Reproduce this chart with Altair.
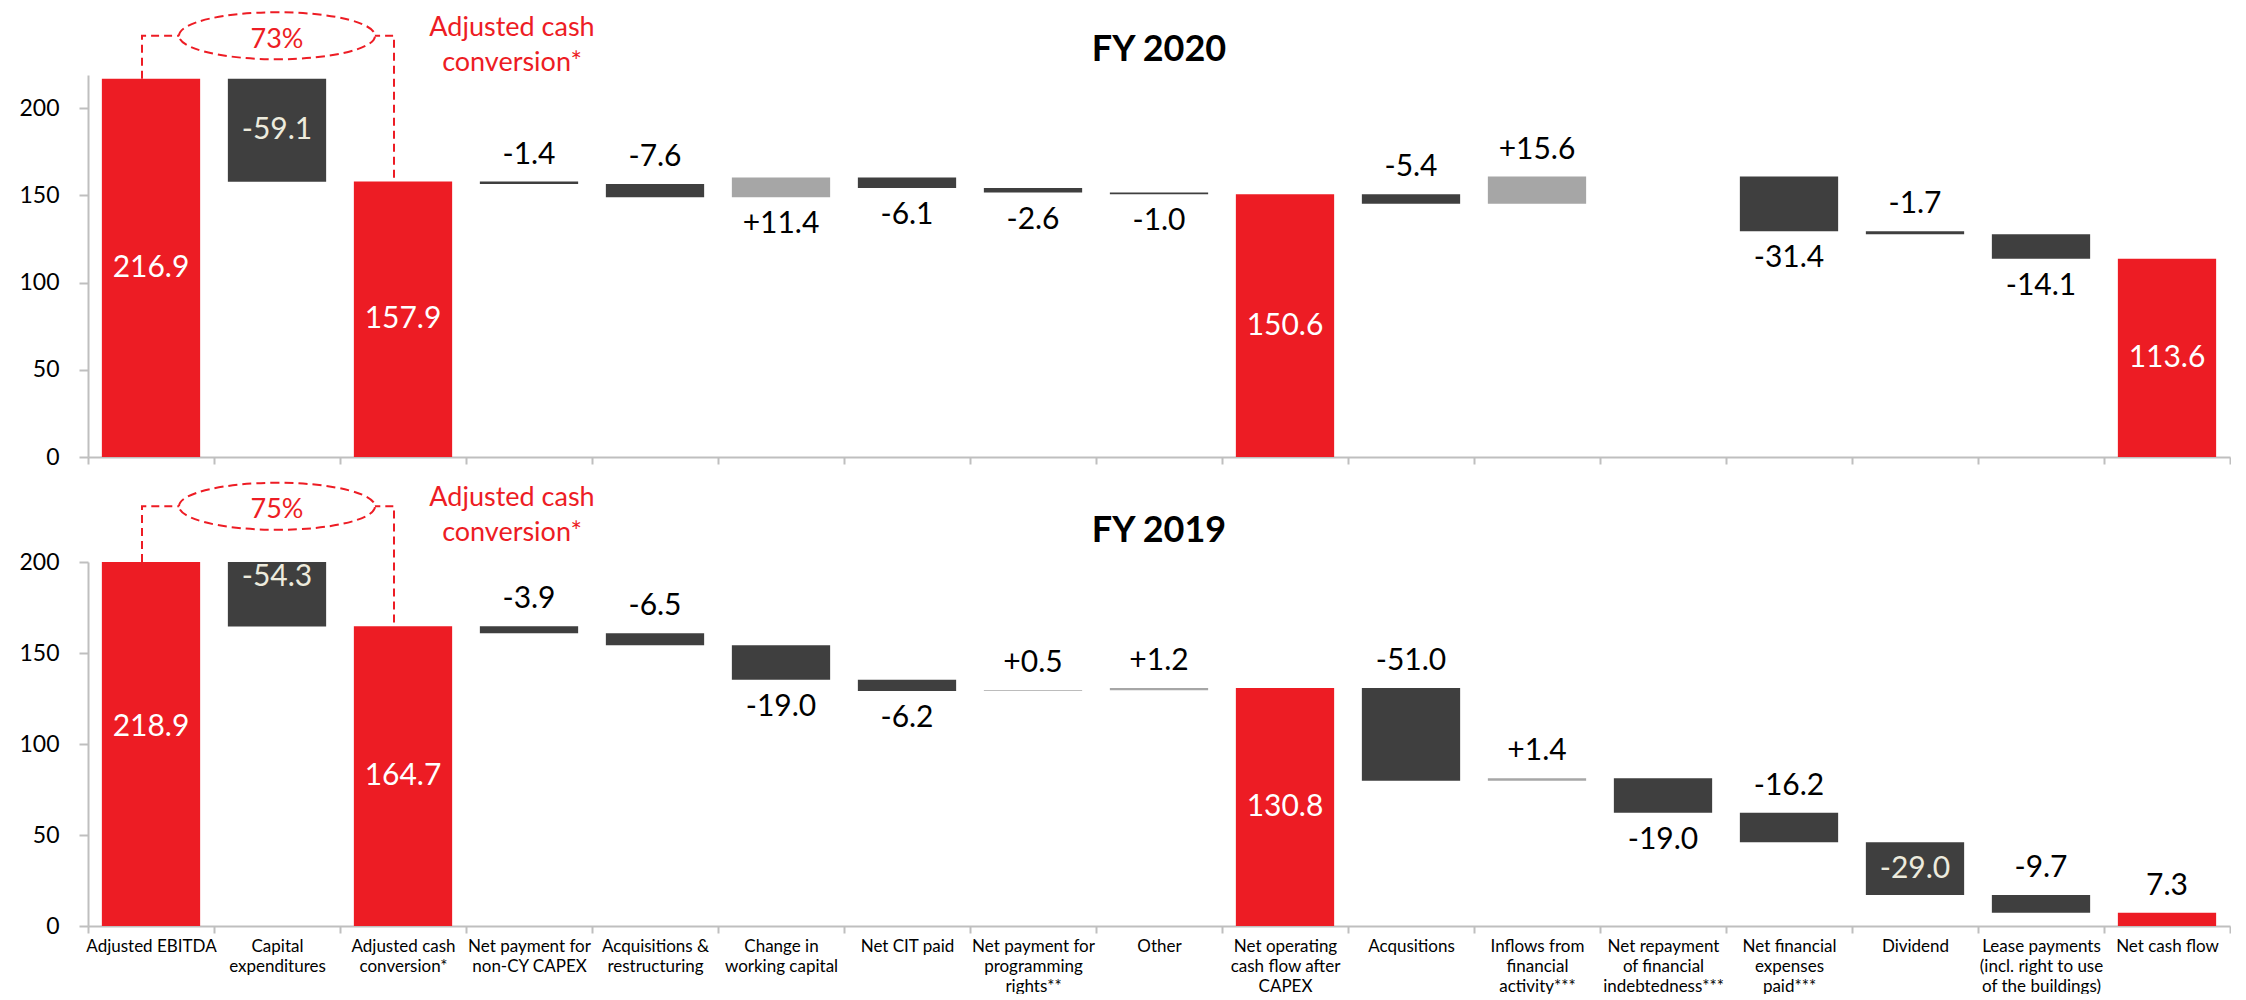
import json
import altair as alt
import pandas as pd

# ---------------- data ----------------
categories = [
    "Adjusted EBITDA", "Capital expenditures", "Adjusted cash conversion*",
    "Net payment for non-CY CAPEX", "Acquisitions & restructuring",
    "Change in working capital", "Net CIT paid",
    "Net payment for programming rights**", "Other",
    "Net operating cash flow after CAPEX", "Acqusitions",
    "Inflows from financial activity***",
    "Net repayment of financial indebtedness***",
    "Net financial expenses paid***", "Dividend",
    "Lease payments (incl. right to use of the buildings)", "Net cash flow",
]
label_lines = [
    ["Adjusted EBITDA"], ["Capital", "expenditures"], ["Adjusted cash", "conversion*"],
    ["Net payment for", "non-CY CAPEX"], ["Acquisitions &", "restructuring"],
    ["Change in", "working capital"], ["Net CIT paid"],
    ["Net payment for", "programming", "rights**"], ["Other"],
    ["Net operating", "cash flow after", "CAPEX"], ["Acqusitions"],
    ["Inflows from", "financial", "activity***"],
    ["Net repayment", "of financial", "indebtedness***"],
    ["Net financial", "expenses", "paid***"], ["Dividend"],
    ["Lease payments", "(incl. right to use", "of the buildings)"], ["Net cash flow"],
]
is_total = [True, False, True, False, False, False, False, False, False,
            True, False, False, False, False, False, False, True]

fy2020_values = [216.9, -59.1, 157.9, -1.4, -7.6, 11.4, -6.1, -2.6, -1.0,
                 150.6, -5.4, 15.6, None, -31.4, -1.7, -14.1, 113.6]
fy2019_values = [218.9, -54.3, 164.7, -3.9, -6.5, -19.0, -6.2, 0.5, 1.2,
                 130.8, -51.0, 1.4, -19.0, -16.2, -29.0, -9.7, 7.3]

fy2020_label_pos = ["mid", "in", "mid", "above", "above", "below", "below", "below", "below",
                    "mid", "above", "above", None, "below", "above", "below", "mid"]
fy2019_label_pos = ["mid", "in", "mid", "above", "above", "below", "below", "above", "above",
                    "mid", "above", "above", "below", "above", "in", "above", "above"]

fy2020_conversion = "73%"
fy2019_conversion = "75%"
conversion_text = ["Adjusted cash", "conversion*"]

# ---------------- style ----------------
RED = "#ED1C24"
DARK = "#3F3F3F"
LIGHT = "#A6A6A6"
AXIS_GREY = "#BFBFBF"
CREAM = "#EDEBDD"
FONT = "Lato"
ELLIPSE = ("M -1 0 C -1 -0.133 -0.552 -0.24 0 -0.24 C 0.552 -0.24 1 -0.133 1 0 "
           "C 1 0.133 0.552 0.24 0 0.24 C -0.552 0.24 -1 0.133 -1 0 Z")
BAR_COLORS = {"total": RED, "decrease": DARK, "increase": LIGHT}
TEXT_COLORS = {"onred": "#FFFFFF", "ondark": CREAM, "outside": "#000000"}

label_map = json.dumps(dict(zip(categories, label_lines)))


def build(values, positions):
    rows = []
    level = 0.0
    for cat, tot, v, p in zip(categories, is_total, values, positions):
        if v is None:
            continue
        if tot:
            start, end = 0.0, v
            level = v
            label = f"{v:.1f}"
            kind = "total"
        else:
            start, end = level, level + v
            level = end
            label = f"{v:+.1f}"
            kind = "decrease" if v < 0 else "increase"
        lo, hi = min(start, end), max(start, end)
        if kind == "total" and p == "mid":
            tone = "onred"
        elif p == "in":
            tone = "ondark"
        else:
            tone = "outside"
        rows.append(dict(cat=cat, start=start, end=end, lo=lo, hi=hi,
                         mid=(lo + hi) / 2, label=label, kind=kind, pos=p,
                         barcol=BAR_COLORS[kind], txtcol=TEXT_COLORS[tone]))
    return pd.DataFrame(rows)


def panel(values, positions, ymax, pct, conv_level, title, title_level, show_x_labels):
    df = build(values, positions)
    y_scale = alt.Scale(domain=[0, ymax], nice=False)
    x_scale = alt.Scale(domain=categories, paddingInner=0, paddingOuter=0)

    x_axis = alt.Axis(
        title=None, labels=show_x_labels, tickBand="extent", labelAngle=0,
        domainColor=AXIS_GREY, domainWidth=2, tickColor=AXIS_GREY, tickWidth=2,
        tickSize=7, labelFont=FONT, labelFontSize=17, labelLineHeight=20,
        labelColor="black", labelPadding=5, labelLimit=0,
        labelExpr=f"{label_map}[datum.value]",
    )
    y_axis = alt.Axis(
        title=None, values=[0, 50, 100, 150, 200], grid=False,
        domainColor=AXIS_GREY, domainWidth=2, tickColor=AXIS_GREY, tickWidth=2,
        tickSize=9, labelFont=FONT, labelFontSize=23, labelColor="black",
        labelPadding=20,
    )

    def X():
        return alt.X("cat:N", scale=x_scale, sort=categories, title=None)

    def Y(field):
        return alt.Y(f"{field}:Q", scale=y_scale, title=None)

    bars = alt.Chart(df).mark_bar(width=alt.RelativeBandSize(0.78), clip=True).encode(
        x=alt.X("cat:N", scale=x_scale, sort=categories, title=None, axis=x_axis),
        y=alt.Y("start:Q", scale=y_scale, title=None, axis=y_axis),
        y2="end:Q",
        color=alt.Color("barcol:N", scale=None, legend=None),
    )

    txt = dict(font=FONT, fontSize=30, baseline="middle", align="center")
    tcol = alt.Color("txtcol:N", scale=None, legend=None)
    lab_mid = alt.Chart(df).transform_filter(
        alt.FieldOneOfPredicate(field="pos", oneOf=["mid", "in"])
    ).mark_text(**txt).encode(x=X(), y=Y("mid"), text="label:N", color=tcol)
    lab_above = alt.Chart(df).transform_filter(alt.datum.pos == "above").mark_text(
        dy=-27, **txt).encode(x=X(), y=Y("hi"), text="label:N", color=tcol)
    lab_below = alt.Chart(df).transform_filter(alt.datum.pos == "below").mark_text(
        dy=27, **txt).encode(x=X(), y=Y("lo"), text="label:N", color=tcol)

    # cash-conversion bracket
    path_df = pd.DataFrame({
        "cat": [categories[0], categories[0], categories[2], categories[2]],
        "v": [min(values[0], ymax), conv_level, conv_level, values[2]],
        "o": [0, 1, 2, 3],
    })
    bracket = alt.Chart(path_df).mark_line(
        color=RED, strokeWidth=2, strokeDash=[8, 5], xOffset=-9
    ).encode(x=X(), y=Y("v"), order="o:Q")

    ell_df = pd.DataFrame({"cat": [categories[1]], "v": [conv_level], "t": [pct]})
    ellipse = alt.Chart(ell_df).mark_point(
        shape=ELLIPSE, size=38416, filled=True, fill="white", stroke=RED,
        strokeWidth=2, strokeDash=[9, 5], opacity=1, fillOpacity=1, strokeOpacity=1,
    ).encode(x=X(), y=Y("v"))
    pct_text = alt.Chart(ell_df).mark_text(
        font=FONT, fontSize=27, color=RED, baseline="middle", align="center", dy=4
    ).encode(x=X(), y=Y("v"), text="t:N")

    conv_df = pd.DataFrame({"cat": [categories[3]], "v": [conv_level], "t": [conversion_text]})
    conv = alt.Chart(conv_df).mark_text(
        font=FONT, fontSize=27, color=RED, baseline="alphabetic", align="center",
        lineHeight=35, dx=-17,
    ).encode(x=X(), y=Y("v"), text="t")

    title_df = pd.DataFrame({"cat": ["Other"], "v": [title_level], "t": [title]})
    ttl = alt.Chart(title_df).mark_text(
        font=FONT, fontSize=36, fontWeight="bold", color="black",
        baseline="alphabetic", align="center",
    ).encode(x=X(), y=Y("v"), text="t:N")

    return alt.layer(bars, lab_mid, lab_above, lab_below, bracket, ellipse,
                     pct_text, conv, ttl)


top = panel(fy2020_values, fy2020_label_pos, 219, fy2020_conversion, 241.5,
            "FY 2020", 227, False).properties(width=2142, height=382)
bottom = panel(fy2019_values, fy2019_label_pos, 200, fy2019_conversion, 230.6,
               "FY 2019", 211, True).properties(width=2142, height=364)

chart = alt.vconcat(top, bottom, spacing=105, bounds="flush").properties(
    padding={"left": 18, "top": 8, "right": 0, "bottom": 0},
    background="white",
).configure_view(stroke=None)

chart.save("out.html", embed_options={"renderer": "svg", "actions": False})
